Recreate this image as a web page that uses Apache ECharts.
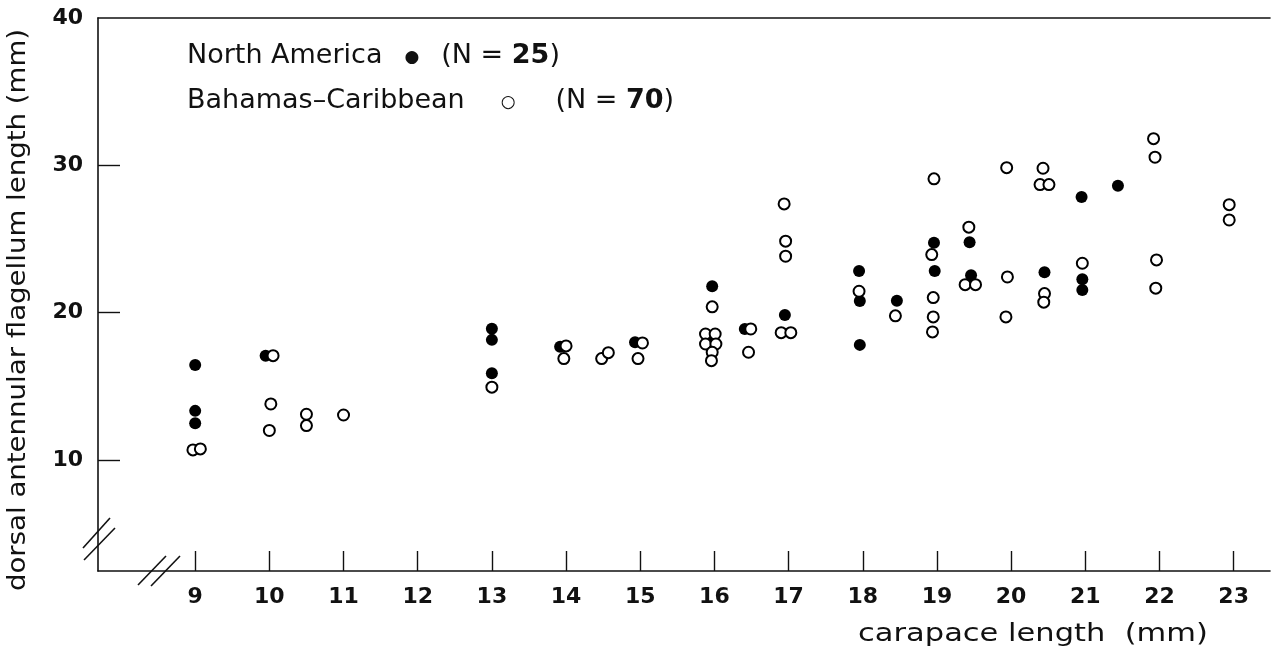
<!DOCTYPE html>
<html>
<head>
<meta charset="utf-8">
<script src="https://cdn.jsdelivr.net/npm/echarts@6/dist/echarts.min.js"></script>
<style>
html,body{margin:0;padding:0;background:#fff;}
#chart{width:1276px;height:648px;}
</style>
</head>
<body>
<div id="chart"></div>
<script>
// ---- data ----
const xTickValues = [9, 10, 11, 12, 13, 14, 15, 16, 17, 18, 19, 20, 21, 22, 23];
const yLabelValues = [10, 20, 30, 40];
const yTickValues = [10, 20, 30];

const seriesNames = ['North America', 'Bahamas\u2013Caribbean'];
const seriesCounts = [25, 70];

// North America (filled circles): [carapace length, flagellum length]
const northAmerica = [
  [9.0, 16.45], [9.0, 13.33], [9.0, 12.49], [9.95, 17.08],
  [13.0, 18.9], [13.0, 18.15], [13.0, 15.89],
  [13.92, 17.69], [14.93, 17.99],
  [15.97, 21.79], [15.97, 18.2], [16.41, 18.89], [16.95, 19.84],
  [17.95, 22.83], [17.96, 20.79], [17.96, 17.81], [18.46, 20.81],
  [18.96, 24.75], [18.97, 22.83], [19.44, 24.78], [19.46, 22.54],
  [20.45, 22.74], [20.95, 27.85], [20.96, 22.27], [20.96, 21.54],
  [21.44, 28.62]
];

// Bahamas–Caribbean (open circles)
const bahamasCaribbean = [
  [8.97, 10.68], [9.07, 10.75],
  [10.05, 17.08], [10.02, 13.8], [10.0, 12.0],
  [10.5, 13.1], [10.5, 12.33], [11.0, 13.05],
  [13.0, 14.94],
  [14.0, 17.74], [13.97, 16.88], [14.48, 16.88], [14.57, 17.28],
  [15.03, 17.94], [14.97, 16.88],
  [15.97, 20.39], [15.88, 18.55], [16.01, 18.55], [15.88, 17.87], [16.02, 17.87],
  [15.97, 17.31], [15.96, 16.74],
  [16.49, 18.89], [16.46, 17.31],
  [16.94, 27.38], [16.96, 24.85], [16.96, 23.83], [16.9, 18.64], [17.03, 18.64],
  [17.95, 21.45], [18.44, 19.78],
  [18.96, 29.08], [18.93, 23.94], [18.95, 21.02], [18.95, 19.71], [18.94, 18.69],
  [19.43, 25.8], [19.38, 21.9], [19.52, 21.9],
  [19.94, 29.84], [19.95, 22.42], [19.93, 19.71],
  [20.43, 29.8], [20.39, 28.69], [20.51, 28.69], [20.45, 21.29], [20.44, 20.71],
  [20.96, 23.35],
  [21.92, 31.81], [21.94, 30.55], [21.96, 23.58], [21.95, 21.66],
  [22.94, 27.33], [22.94, 26.29]
];

// ---- chart ----
const chart = echarts.init(document.getElementById('chart'), null, {renderer: 'canvas'});
const FONT = '"DejaVu Sans", "Liberation Sans", sans-serif';
const lineStyle = {color: '#111', width: 1.6};

const option = {
  backgroundColor: '#fff',
  animation: false,
  grid: {left: 98, right: 6, top: 18, bottom: 77, containLabel: false},
  legend: {
    orient: 'vertical',
    left: 176,
    top: 36,
    itemGap: 15,
    icon: 'none',
    itemWidth: 1,
    itemHeight: 1,
    selectedMode: false,
    data: seriesNames,
    formatter: function (name) {
      const i = seriesNames.indexOf(name);
      const sym = i === 0 ? '{fd|\u25CF}' : '{od|\u25CB}';
      return name + sym + '(N = {b|' + seriesCounts[i] + '})';
    },
    textStyle: {
      fontFamily: FONT, fontSize: 27, color: '#111', lineHeight: 30,
      rich: {
        fd: {fontFamily: FONT, fontSize: 17, color: '#111', padding: [4, 22, 0, 22]},
        od: {fontFamily: FONT, fontSize: 17, color: '#111', padding: [4, 40, 0, 36]},
        b: {fontFamily: FONT, fontSize: 27, fontWeight: 'bold', color: '#111'}
      }
    }
  },
  xAxis: [{
    type: 'value',
    min: 7.69,
    max: 23.49,
    position: 'bottom',
    axisLine: {show: true, lineStyle: lineStyle},
    axisTick: {show: true, inside: true, length: 20, customValues: xTickValues, lineStyle: {color: '#111', width: 1.4}},
    axisLabel: {show: true, customValues: xTickValues, margin: 15, fontFamily: FONT, fontSize: 22, fontWeight: 'bold', color: '#111'},
    splitLine: {show: false}
  }, {
    type: 'value',
    min: 7.69,
    max: 23.49,
    position: 'top',
    axisLine: {show: true, onZero: false, lineStyle: lineStyle},
    axisTick: {show: false},
    axisLabel: {show: false},
    splitLine: {show: false}
  }],
  yAxis: {
    type: 'value',
    min: 2.46,
    max: 40,
    axisLine: {show: true, onZero: false, lineStyle: lineStyle},
    axisTick: {show: true, inside: true, length: 22, customValues: yTickValues, lineStyle: {color: '#111', width: 1.4}},
    axisLabel: {show: true, customValues: yLabelValues, margin: 15, fontFamily: FONT, fontSize: 22, fontWeight: 'bold', color: '#111'},
    splitLine: {show: false}
  },
  series: [{
    name: seriesNames[0],
    type: 'scatter',
    xAxisIndex: 0,
    data: northAmerica,
    symbol: 'circle',
    symbolSize: 12,
    itemStyle: {color: '#000', opacity: 1},
    emphasis: {disabled: true},
    z: 3
  }, {
    name: seriesNames[1],
    type: 'scatter',
    xAxisIndex: 0,
    data: bahamasCaribbean,
    symbol: 'circle',
    symbolSize: 11,
    itemStyle: {color: '#fff', borderColor: '#000', borderWidth: 2, opacity: 1},
    emphasis: {disabled: true},
    z: 4
  }],
  graphic: [
    // y-axis title
    {type: 'text', x: 19, y: 310, rotation: Math.PI / 2, scaleX: 1.15,
      style: {text: 'dorsal antennular flagellum length (mm)', fontFamily: FONT, fontSize: 24,
        fill: '#111', align: 'center', verticalAlign: 'middle'}},
    // x-axis title
    {type: 'text', x: 1033, y: 634, scaleX: 1.22,
      style: {text: 'carapace length  (mm)', fontFamily: FONT, fontSize: 25,
        fill: '#111', align: 'center', verticalAlign: 'middle'}},
    // axis break marks (decoration)
    {type: 'line', shape: {x1: 83, y1: 548, x2: 110, y2: 518}, style: {stroke: '#111', lineWidth: 1.6}},
    {type: 'line', shape: {x1: 84, y1: 560, x2: 115, y2: 528}, style: {stroke: '#111', lineWidth: 1.6}},
    {type: 'line', shape: {x1: 138, y1: 585, x2: 166, y2: 556}, style: {stroke: '#111', lineWidth: 1.6}},
    {type: 'line', shape: {x1: 151, y1: 586, x2: 180, y2: 556}, style: {stroke: '#111', lineWidth: 1.6}}
  ]
};
chart.setOption(option);
</script>
</body>
</html>
